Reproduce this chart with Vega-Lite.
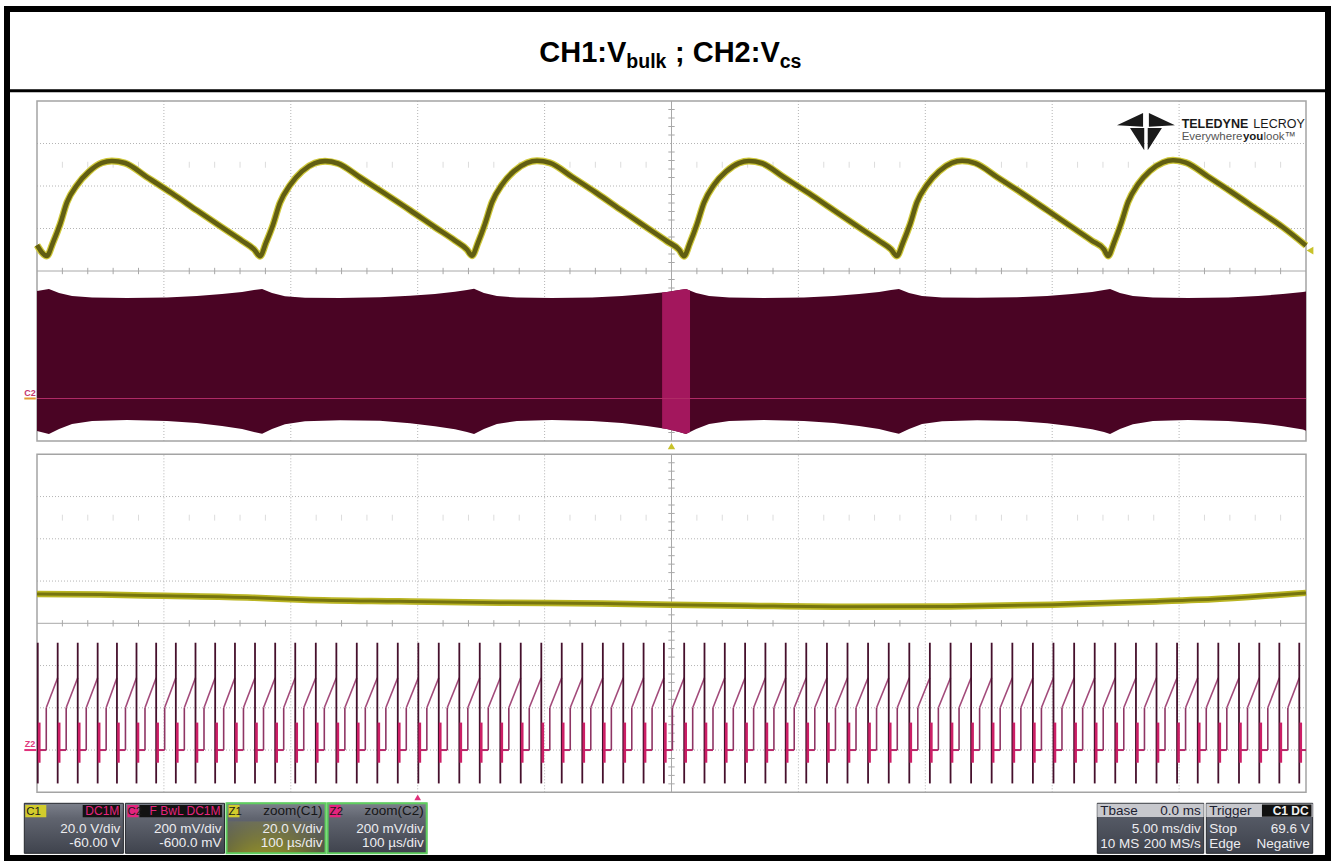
{
  "$schema": "https://vega.github.io/schema/vega-lite/v6.json",
  "width": 1321,
  "height": 849,
  "autosize": {"type": "none"},
  "padding": {"left": 7, "top": 9, "right": 4, "bottom": 4},
  "background": "#ffffff",
  "config": {"view": {"stroke": "#000000", "strokeWidth": 6}, "font": "Liberation Sans"},
  "datasets": {
    "xdiv": [{"d": -4}, {"d": -3}, {"d": -2}, {"d": -1}, {"d": 1}, {"d": 2}, {"d": 3}, {"d": 4}],
    "ydiv": [{"d": -3}, {"d": -2}, {"d": -1}, {"d": 1}, {"d": 2}, {"d": 3}],
    "xtick": [{"d": -4.8}, {"d": -4.6}, {"d": -4.4}, {"d": -4.2}, {"d": -3.8}, {"d": -3.6}, {"d": -3.4}, {"d": -3.2}, {"d": -2.8}, {"d": -2.6}, {"d": -2.4}, {"d": -2.2}, {"d": -1.8}, {"d": -1.6}, {"d": -1.4}, {"d": -1.2}, {"d": -0.8}, {"d": -0.6}, {"d": -0.4}, {"d": -0.2}, {"d": 0.2}, {"d": 0.4}, {"d": 0.6}, {"d": 0.8}, {"d": 1.2}, {"d": 1.4}, {"d": 1.6}, {"d": 1.8}, {"d": 2.2}, {"d": 2.4}, {"d": 2.6}, {"d": 2.8}, {"d": 3.2}, {"d": 3.4}, {"d": 3.6}, {"d": 3.8}, {"d": 4.2}, {"d": 4.4}, {"d": 4.6}, {"d": 4.8}],
    "ytick": [{"d": -3.8}, {"d": -3.6}, {"d": -3.4}, {"d": -3.2}, {"d": -2.8}, {"d": -2.6}, {"d": -2.4}, {"d": -2.2}, {"d": -1.8}, {"d": -1.6}, {"d": -1.4}, {"d": -1.2}, {"d": -0.8}, {"d": -0.6}, {"d": -0.4}, {"d": -0.2}, {"d": 0.2}, {"d": 0.4}, {"d": 0.6}, {"d": 0.8}, {"d": 1.2}, {"d": 1.4}, {"d": 1.6}, {"d": 1.8}, {"d": 2.2}, {"d": 2.4}, {"d": 2.6}, {"d": 2.8}, {"d": 3.2}, {"d": 3.4}, {"d": 3.6}, {"d": 3.8}],
    "c1": [
      {"t": -25.0, "v": 72.2},
      {"t": -24.61, "v": 67.1}, {"t": -24.37, "v": 73.4}, {"t": -24.09, "v": 82.0}, {"t": -23.82, "v": 92.3}, {"t": -23.42, "v": 100.5}, {"t": -22.95, "v": 106.8}, {"t": -22.44, "v": 110.9}, {"t": -22.05, "v": 111.8}, {"t": -21.53, "v": 110.8}, {"t": -20.67, "v": 104.2}, {"t": -19.68, "v": 96.5}, {"t": -18.70, "v": 88.5}, {"t": -17.71, "v": 80.5}, {"t": -16.92, "v": 74.2}, {"t": -16.45, "v": 70.2},
      {"t": -16.21, "v": 67.0}, {"t": -15.98, "v": 73.2}, {"t": -15.70, "v": 81.8}, {"t": -15.43, "v": 92.0}, {"t": -15.03, "v": 100.4}, {"t": -14.56, "v": 106.9}, {"t": -14.05, "v": 110.8}, {"t": -13.65, "v": 111.7}, {"t": -13.14, "v": 110.6}, {"t": -12.27, "v": 104.0}, {"t": -11.29, "v": 96.4}, {"t": -10.30, "v": 88.6}, {"t": -9.32, "v": 80.6}, {"t": -8.53, "v": 74.3}, {"t": -8.06, "v": 70.1},
      {"t": -7.86, "v": 67.2}, {"t": -7.62, "v": 73.5}, {"t": -7.35, "v": 82.1}, {"t": -7.07, "v": 92.4}, {"t": -6.68, "v": 100.6}, {"t": -6.21, "v": 106.9}, {"t": -5.69, "v": 110.9}, {"t": -5.30, "v": 111.9}, {"t": -4.79, "v": 110.9}, {"t": -3.92, "v": 104.3}, {"t": -2.94, "v": 96.6}, {"t": -1.95, "v": 88.4}, {"t": -0.97, "v": 80.4}, {"t": -0.18, "v": 74.0}, {"t": 0.30, "v": 70.0},
      {"t": 0.49, "v": 67.0}, {"t": 0.73, "v": 73.3}, {"t": 1.00, "v": 81.9}, {"t": 1.28, "v": 92.2}, {"t": 1.67, "v": 100.5}, {"t": 2.15, "v": 106.8}, {"t": 2.66, "v": 110.8}, {"t": 3.05, "v": 111.8}, {"t": 3.57, "v": 110.7}, {"t": 4.43, "v": 104.1}, {"t": 5.42, "v": 96.5}, {"t": 6.40, "v": 88.5}, {"t": 7.39, "v": 80.5}, {"t": 8.18, "v": 74.2}, {"t": 8.65, "v": 70.2},
      {"t": 8.88, "v": 67.1}, {"t": 9.12, "v": 73.4}, {"t": 9.40, "v": 82.0}, {"t": 9.67, "v": 92.3}, {"t": 10.07, "v": 100.6}, {"t": 10.54, "v": 106.9}, {"t": 11.05, "v": 110.9}, {"t": 11.45, "v": 111.9}, {"t": 11.96, "v": 110.8}, {"t": 12.83, "v": 104.2}, {"t": 13.81, "v": 96.6}, {"t": 14.80, "v": 88.6}, {"t": 15.78, "v": 80.6}, {"t": 16.57, "v": 74.2}, {"t": 17.04, "v": 70.2},
      {"t": 17.20, "v": 67.1}, {"t": 17.44, "v": 73.5}, {"t": 17.71, "v": 82.2}, {"t": 17.99, "v": 92.5}, {"t": 18.38, "v": 100.8}, {"t": 18.85, "v": 107.1}, {"t": 19.37, "v": 111.1}, {"t": 19.76, "v": 112.1}, {"t": 20.27, "v": 111.0}, {"t": 21.14, "v": 104.4}, {"t": 22.12, "v": 96.7}, {"t": 23.11, "v": 88.6}, {"t": 24.09, "v": 80.6}, {"t": 25.0, "v": 72.0}
    ],
    "c2env": [
      {"t": -25.0, "hi": 506, "lo": -153},
      {"t": -24.53, "hi": 515, "lo": -167}, {"t": -24.13, "hi": 497, "lo": -144}, {"t": -23.62, "hi": 482, "lo": -120}, {"t": -22.83, "hi": 475, "lo": -106}, {"t": -21.45, "hi": 473, "lo": -101}, {"t": -19.88, "hi": 475, "lo": -106}, {"t": -18.70, "hi": 482, "lo": -115}, {"t": -17.71, "hi": 492, "lo": -129}, {"t": -16.92, "hi": 501, "lo": -144}, {"t": -16.45, "hi": 511, "lo": -158},
      {"t": -16.13, "hi": 515, "lo": -166}, {"t": -15.74, "hi": 496, "lo": -143}, {"t": -15.23, "hi": 481, "lo": -121}, {"t": -14.44, "hi": 474, "lo": -107}, {"t": -13.06, "hi": 473, "lo": -102}, {"t": -11.49, "hi": 476, "lo": -105}, {"t": -10.30, "hi": 483, "lo": -116}, {"t": -9.32, "hi": 492, "lo": -130}, {"t": -8.53, "hi": 502, "lo": -145}, {"t": -8.06, "hi": 511, "lo": -158},
      {"t": -7.78, "hi": 516, "lo": -167}, {"t": -7.39, "hi": 497, "lo": -144}, {"t": -6.88, "hi": 482, "lo": -120}, {"t": -6.09, "hi": 475, "lo": -106}, {"t": -4.71, "hi": 473, "lo": -101}, {"t": -3.13, "hi": 475, "lo": -106}, {"t": -1.95, "hi": 482, "lo": -115}, {"t": -0.97, "hi": 492, "lo": -129}, {"t": -0.18, "hi": 501, "lo": -144}, {"t": 0.30, "hi": 511, "lo": -158},
      {"t": 0.57, "hi": 515, "lo": -167}, {"t": 0.97, "hi": 497, "lo": -144}, {"t": 1.48, "hi": 482, "lo": -120}, {"t": 2.27, "hi": 475, "lo": -106}, {"t": 3.64, "hi": 473, "lo": -101}, {"t": 5.22, "hi": 475, "lo": -106}, {"t": 6.40, "hi": 482, "lo": -115}, {"t": 7.39, "hi": 492, "lo": -129}, {"t": 8.18, "hi": 501, "lo": -144}, {"t": 8.65, "hi": 511, "lo": -158},
      {"t": 8.96, "hi": 515, "lo": -166}, {"t": 9.36, "hi": 497, "lo": -143}, {"t": 9.87, "hi": 482, "lo": -120}, {"t": 10.66, "hi": 475, "lo": -107}, {"t": 12.04, "hi": 474, "lo": -102}, {"t": 13.61, "hi": 476, "lo": -106}, {"t": 14.80, "hi": 482, "lo": -116}, {"t": 15.78, "hi": 492, "lo": -130}, {"t": 16.57, "hi": 501, "lo": -145}, {"t": 17.04, "hi": 511, "lo": -158},
      {"t": 17.28, "hi": 515, "lo": -167}, {"t": 17.67, "hi": 497, "lo": -144}, {"t": 18.18, "hi": 482, "lo": -121}, {"t": 18.97, "hi": 475, "lo": -106}, {"t": 20.35, "hi": 473, "lo": -101}, {"t": 21.93, "hi": 475, "lo": -106}, {"t": 23.11, "hi": 482, "lo": -116}, {"t": 24.09, "hi": 492, "lo": -130}, {"t": 24.88, "hi": 501, "lo": -146},
      {"t": 25.0, "hi": 504, "lo": -152}
    ],
    "c2zoom": [
      {"t": -0.37, "hi": 499, "lo": -140}, {"t": -0.18, "hi": 501, "lo": -144}, {"t": 0.30, "hi": 511, "lo": -158}, {"t": 0.57, "hi": 515, "lo": -167}, {"t": 0.73, "hi": 508, "lo": -158}
    ],
    "z1": [
      {"t": -500, "v": 73.9}, {"t": -450, "v": 73.6}, {"t": -400, "v": 73.0}, {"t": -330, "v": 72.1}, {"t": -290, "v": 71.2}, {"t": -215, "v": 70.4}, {"t": -135, "v": 69.7}, {"t": -55, "v": 69.4}, {"t": 0, "v": 68.8}, {"t": 60, "v": 68.3}, {"t": 140, "v": 67.8}, {"t": 220, "v": 68.0}, {"t": 300, "v": 68.8}, {"t": 375, "v": 70.2}, {"t": 415, "v": 71.1}, {"t": 455, "v": 72.5}, {"t": 500, "v": 74.4}
    ],
    "z2": [
      {"s": -499.4, "on": -492.7, "off": -483.7}, {"s": -483.7, "on": -477.0, "off": -467.9}, {"s": -467.9, "on": -461.2, "off": -452.2}, {"s": -452.2, "on": -445.5, "off": -437.0},
      {"s": -437.0, "on": -430.3, "off": -421.6}, {"s": -421.6, "on": -414.9, "off": -406.1}, {"s": -406.1, "on": -399.4, "off": -390.6}, {"s": -390.6, "on": -383.9, "off": -375.1},
      {"s": -375.1, "on": -368.4, "off": -359.6}, {"s": -359.6, "on": -352.9, "off": -344.0}, {"s": -344.0, "on": -337.3, "off": -328.2}, {"s": -328.2, "on": -321.5, "off": -312.3},
      {"s": -312.3, "on": -305.6, "off": -296.5}, {"s": -296.5, "on": -289.8, "off": -280.3}, {"s": -280.3, "on": -273.6, "off": -264.1}, {"s": -264.1, "on": -257.4, "off": -248.0},
      {"s": -248.0, "on": -241.3, "off": -231.8}, {"s": -231.8, "on": -225.1, "off": -215.7}, {"s": -215.7, "on": -209.0, "off": -199.5}, {"s": -199.5, "on": -192.8, "off": -183.4},
      {"s": -183.4, "on": -176.7, "off": -167.2}, {"s": -167.2, "on": -160.5, "off": -151.1}, {"s": -151.1, "on": -144.4, "off": -134.9}, {"s": -134.9, "on": -128.2, "off": -118.8},
      {"s": -118.8, "on": -112.1, "off": -102.6}, {"s": -102.6, "on": -95.9, "off": -86.5}, {"s": -86.5, "on": -79.8, "off": -70.3}, {"s": -70.3, "on": -63.6, "off": -54.1},
      {"s": -54.1, "on": -47.4, "off": -38.0}, {"s": -38.0, "on": -31.3, "off": -22.0}, {"s": -22.0, "on": -15.3, "off": -6.0}, {"s": -6.0, "on": 0.7, "off": 10.0},
      {"s": 10.0, "on": 16.7, "off": 26.0}, {"s": 26.0, "on": 32.7, "off": 42.0}, {"s": 42.0, "on": 48.7, "off": 58.0}, {"s": 58.0, "on": 64.7, "off": 74.0},
      {"s": 74.0, "on": 80.7, "off": 90.0}, {"s": 90.0, "on": 96.7, "off": 106.2}, {"s": 106.2, "on": 112.9, "off": 122.5}, {"s": 122.5, "on": 129.2, "off": 138.7},
      {"s": 138.7, "on": 145.4, "off": 154.9}, {"s": 154.9, "on": 161.6, "off": 171.2}, {"s": 171.2, "on": 177.9, "off": 187.4}, {"s": 187.4, "on": 194.1, "off": 203.6},
      {"s": 203.6, "on": 210.3, "off": 219.9}, {"s": 219.9, "on": 226.6, "off": 236.1}, {"s": 236.1, "on": 242.8, "off": 252.3}, {"s": 252.3, "on": 259.0, "off": 268.6},
      {"s": 268.6, "on": 275.3, "off": 284.8}, {"s": 284.8, "on": 291.5, "off": 301.0}, {"s": 301.0, "on": 307.7, "off": 317.3}, {"s": 317.3, "on": 324.0, "off": 333.5},
      {"s": 333.5, "on": 340.2, "off": 349.7}, {"s": 349.7, "on": 356.4, "off": 366.0}, {"s": 366.0, "on": 372.7, "off": 382.2}, {"s": 382.2, "on": 388.9, "off": 398.4},
      {"s": 398.4, "on": 405.1, "off": 414.7}, {"s": 414.7, "on": 421.4, "off": 430.9}, {"s": 430.9, "on": 437.6, "off": 447.2}, {"s": 447.2, "on": 453.9, "off": 463.2},
      {"s": 463.2, "on": 469.9, "off": 479.0}, {"s": 479.0, "on": 485.7, "off": 494.7}, {"s": 494.7, "on": 500.0}
    ],
    "boxesL": [
      {"box": "C1", "head": "", "mid": "20.0 V/div", "low": "-60.00 V"},
      {"box": "C2", "head": "", "mid": "200 mV/div", "low": "-600.0 mV"},
      {"box": "Z1", "head": "zoom(C1)", "mid": "20.0 V/div", "low": "100 µs/div"},
      {"box": "Z2", "head": "zoom(C2)", "mid": "200 mV/div", "low": "100 µs/div"}
    ],
    "badgesL": [
      {"box": "C1", "badge": "DC1M"},
      {"box": "C2", "badge": "F  BwL  DC1M"}
    ],
    "boxesR": [
      {"box": "Tbase", "hl": "Tbase", "hr": "0.0 ms", "ml": "", "mr": "5.00 ms/div", "ll": "10 MS", "lr": "200 MS/s"},
      {"box": "Trigger", "hl": "Trigger", "hr": "", "ml": "Stop", "mr": "69.6 V", "ll": "Edge", "lr": "Negative"}
    ]
  },
  "resolve": {"scale": {"x": "independent", "y": "independent", "color": "independent"}},
  "layer": [
    {
      "layer": [
        {"data": {"name": "xdiv"}, "mark": {"type": "rule", "color": "#b4b4b4", "strokeDash": [1, 2]},
         "encoding": {"x": {"field": "d", "type": "quantitative", "scale": {"domain": [-5, 5], "range": [30, 1299]}, "axis": null},
                      "y": {"datum": -4, "type": "quantitative", "scale": {"domain": [-4, 4], "range": [432, 92]}, "axis": null}, "y2": {"datum": 4}}},
        {"data": {"name": "ydiv"}, "mark": {"type": "rule", "color": "#b4b4b4", "strokeDash": [1, 2]},
         "encoding": {"y": {"field": "d", "type": "quantitative", "scale": {"domain": [-4, 4], "range": [432, 92]}, "axis": null},
                      "x": {"datum": -5, "type": "quantitative", "scale": {"domain": [-5, 5], "range": [30, 1299]}, "axis": null}, "x2": {"datum": 5}}},
        {"data": {"name": "xtick"}, "mark": {"type": "rule", "color": "#dcdcdc"},
         "encoding": {"x": {"field": "d", "type": "quantitative", "scale": {"domain": [-5, 5], "range": [30, 1299]}, "axis": null},
                      "y": {"datum": 2.43, "type": "quantitative", "scale": {"domain": [-4, 4], "range": [432, 92]}, "axis": null}, "y2": {"datum": 2.57}}},
        {"data": {"name": "xtick"}, "mark": {"type": "rule", "color": "#a8a8a8"},
         "encoding": {"x": {"field": "d", "type": "quantitative", "scale": {"domain": [-5, 5], "range": [30, 1299]}, "axis": null},
                      "y": {"datum": -0.075, "type": "quantitative", "scale": {"domain": [-4, 4], "range": [432, 92]}, "axis": null}, "y2": {"datum": 0.075}}},
        {"data": {"name": "ytick"}, "mark": {"type": "rule", "color": "#a8a8a8"},
         "encoding": {"y": {"field": "d", "type": "quantitative", "scale": {"domain": [-4, 4], "range": [432, 92]}, "axis": null},
                      "x": {"datum": -0.025, "type": "quantitative", "scale": {"domain": [-5, 5], "range": [30, 1299]}, "axis": null}, "x2": {"datum": 0.025}}},
        {"data": {"values": [{}]}, "mark": {"type": "rule", "color": "#a8a8a8"},
         "encoding": {"x": {"datum": 0, "type": "quantitative", "scale": {"domain": [-5, 5], "range": [30, 1299]}, "axis": null},
                      "y": {"datum": -4, "type": "quantitative", "scale": {"domain": [-4, 4], "range": [432, 92]}, "axis": null}, "y2": {"datum": 4}}},
        {"data": {"values": [{}]}, "mark": {"type": "rule", "color": "#a8a8a8"},
         "encoding": {"y": {"datum": 0, "type": "quantitative", "scale": {"domain": [-4, 4], "range": [432, 92]}, "axis": null},
                      "x": {"datum": -5, "type": "quantitative", "scale": {"domain": [-5, 5], "range": [30, 1299]}, "axis": null}, "x2": {"datum": 5}}},
        {"data": {"values": [{}]}, "mark": {"type": "rect", "fill": "transparent", "stroke": "#a4a4a4", "strokeWidth": 1.5},
         "encoding": {"x": {"datum": -5, "type": "quantitative", "scale": {"domain": [-5, 5], "range": [30, 1299]}, "axis": null}, "x2": {"datum": 5},
                      "y": {"datum": -4, "type": "quantitative", "scale": {"domain": [-4, 4], "range": [432, 92]}, "axis": null}, "y2": {"datum": 4}}},
        {"data": {"values": [{}]}, "mark": {"type": "rule", "color": "#000000", "strokeWidth": 3},
         "encoding": {"y": {"datum": 4.24, "type": "quantitative", "scale": {"domain": [-4, 4], "range": [432, 92]}, "axis": null}}},
        {"data": {"values": [{}]}, "mark": {"type": "text", "text": "CH1:V", "align": "right", "baseline": "alphabetic", "fontSize": 29, "fontWeight": "bold", "color": "#000000"},
         "encoding": {"x": {"datum": -0.356, "type": "quantitative", "scale": {"domain": [-5, 5], "range": [30, 1299]}, "axis": null},
                      "y": {"datum": 4.918, "type": "quantitative", "scale": {"domain": [-4, 4], "range": [432, 92]}, "axis": null}}},
        {"data": {"values": [{}]}, "mark": {"type": "text", "text": "bulk", "align": "left", "baseline": "alphabetic", "fontSize": 19.5, "fontWeight": "bold", "color": "#000000"},
         "encoding": {"x": {"datum": -0.356, "type": "quantitative", "scale": {"domain": [-5, 5], "range": [30, 1299]}, "axis": null},
                      "y": {"datum": 4.776, "type": "quantitative", "scale": {"domain": [-4, 4], "range": [432, 92]}, "axis": null}}},
        {"data": {"values": [{}]}, "mark": {"type": "text", "text": " ; CH2:V", "align": "right", "baseline": "alphabetic", "fontSize": 29, "fontWeight": "bold", "color": "#000000"},
         "encoding": {"x": {"datum": 0.853, "type": "quantitative", "scale": {"domain": [-5, 5], "range": [30, 1299]}, "axis": null},
                      "y": {"datum": 4.918, "type": "quantitative", "scale": {"domain": [-4, 4], "range": [432, 92]}, "axis": null}}},
        {"data": {"values": [{}]}, "mark": {"type": "text", "text": "cs", "align": "left", "baseline": "alphabetic", "fontSize": 19.5, "fontWeight": "bold", "color": "#000000"},
         "encoding": {"x": {"datum": 0.853, "type": "quantitative", "scale": {"domain": [-5, 5], "range": [30, 1299]}, "axis": null},
                      "y": {"datum": 4.776, "type": "quantitative", "scale": {"domain": [-4, 4], "range": [432, 92]}, "axis": null}}},
        {"data": {"values": [{}]}, "mark": {"type": "point", "shape": "M-1,-0.2L-0.1,-0.62L-0.1,-0.15Z M1,-0.2L0.1,-0.62L0.1,-0.15Z M-0.06,-0.1L-0.55,-0.1L-0.06,0.66Z M0.06,-0.1L0.55,-0.1L0.06,0.66Z", "size": 3364, "filled": true, "color": "#1a1a1a", "opacity": 1},
         "encoding": {"x": {"datum": 3.739, "type": "quantitative", "scale": {"domain": [-5, 5], "range": [30, 1299]}, "axis": null},
                      "y": {"datum": 3.294, "type": "quantitative", "scale": {"domain": [-4, 4], "range": [432, 92]}, "axis": null}}},
        {"data": {"values": [{}]}, "mark": {"type": "text", "text": "TELEDYNE", "align": "left", "baseline": "alphabetic", "fontSize": 12.5, "fontWeight": "bold", "color": "#1a1a1a"},
         "encoding": {"x": {"datum": 4.02, "type": "quantitative", "scale": {"domain": [-5, 5], "range": [30, 1299]}, "axis": null},
                      "y": {"datum": 3.376, "type": "quantitative", "scale": {"domain": [-4, 4], "range": [432, 92]}, "axis": null}}},
        {"data": {"values": [{}]}, "mark": {"type": "text", "text": "LECROY", "align": "left", "baseline": "alphabetic", "fontSize": 12.5, "color": "#1a1a1a"},
         "encoding": {"x": {"datum": 4.585, "type": "quantitative", "scale": {"domain": [-5, 5], "range": [30, 1299]}, "axis": null},
                      "y": {"datum": 3.376, "type": "quantitative", "scale": {"domain": [-4, 4], "range": [432, 92]}, "axis": null}}},
        {"data": {"values": [{}]}, "mark": {"type": "text", "text": "Everywhere", "align": "left", "baseline": "alphabetic", "fontSize": 11.5, "color": "#555555"},
         "encoding": {"x": {"datum": 4.02, "type": "quantitative", "scale": {"domain": [-5, 5], "range": [30, 1299]}, "axis": null},
                      "y": {"datum": 3.082, "type": "quantitative", "scale": {"domain": [-4, 4], "range": [432, 92]}, "axis": null}}},
        {"data": {"values": [{}]}, "mark": {"type": "text", "text": "you", "align": "left", "baseline": "alphabetic", "fontSize": 11.5, "fontWeight": "bold", "color": "#1a1a1a"},
         "encoding": {"x": {"datum": 4.503, "type": "quantitative", "scale": {"domain": [-5, 5], "range": [30, 1299]}, "axis": null},
                      "y": {"datum": 3.082, "type": "quantitative", "scale": {"domain": [-4, 4], "range": [432, 92]}, "axis": null}}},
        {"data": {"values": [{}]}, "mark": {"type": "text", "text": "look™", "align": "left", "baseline": "alphabetic", "fontSize": 11.5, "color": "#555555"},
         "encoding": {"x": {"datum": 4.665, "type": "quantitative", "scale": {"domain": [-5, 5], "range": [30, 1299]}, "axis": null},
                      "y": {"datum": 3.082, "type": "quantitative", "scale": {"domain": [-4, 4], "range": [432, 92]}, "axis": null}}},
        {"data": {"values": [{}]}, "mark": {"type": "point", "shape": "triangle-up", "size": 55, "filled": true, "color": "#c8c22a", "opacity": 1},
         "encoding": {"x": {"datum": 0, "type": "quantitative", "scale": {"domain": [-5, 5], "range": [30, 1299]}, "axis": null},
                      "y": {"datum": -4.12, "type": "quantitative", "scale": {"domain": [-4, 4], "range": [432, 92]}, "axis": null}}}
      ]
    },
    {
      "layer": [
        {"data": {"name": "xdiv"}, "mark": {"type": "rule", "color": "#b4b4b4", "strokeDash": [1, 2]},
         "encoding": {"x": {"field": "d", "type": "quantitative", "scale": {"domain": [-5, 5], "range": [30, 1299]}, "axis": null},
                      "y": {"datum": -4, "type": "quantitative", "scale": {"domain": [-4, 4], "range": [783.3, 445.3]}, "axis": null}, "y2": {"datum": 4}}},
        {"data": {"name": "ydiv"}, "mark": {"type": "rule", "color": "#b4b4b4", "strokeDash": [1, 2]},
         "encoding": {"y": {"field": "d", "type": "quantitative", "scale": {"domain": [-4, 4], "range": [783.3, 445.3]}, "axis": null},
                      "x": {"datum": -5, "type": "quantitative", "scale": {"domain": [-5, 5], "range": [30, 1299]}, "axis": null}, "x2": {"datum": 5}}},
        {"data": {"name": "xtick"}, "mark": {"type": "rule", "color": "#dcdcdc"},
         "encoding": {"x": {"field": "d", "type": "quantitative", "scale": {"domain": [-5, 5], "range": [30, 1299]}, "axis": null},
                      "y": {"datum": 2.43, "type": "quantitative", "scale": {"domain": [-4, 4], "range": [783.3, 445.3]}, "axis": null}, "y2": {"datum": 2.57}}},
        {"data": {"name": "xtick"}, "mark": {"type": "rule", "color": "#a8a8a8"},
         "encoding": {"x": {"field": "d", "type": "quantitative", "scale": {"domain": [-5, 5], "range": [30, 1299]}, "axis": null},
                      "y": {"datum": -0.075, "type": "quantitative", "scale": {"domain": [-4, 4], "range": [783.3, 445.3]}, "axis": null}, "y2": {"datum": 0.075}}},
        {"data": {"name": "ytick"}, "mark": {"type": "rule", "color": "#a8a8a8"},
         "encoding": {"y": {"field": "d", "type": "quantitative", "scale": {"domain": [-4, 4], "range": [783.3, 445.3]}, "axis": null},
                      "x": {"datum": -0.025, "type": "quantitative", "scale": {"domain": [-5, 5], "range": [30, 1299]}, "axis": null}, "x2": {"datum": 0.025}}},
        {"data": {"values": [{}]}, "mark": {"type": "rule", "color": "#a8a8a8"},
         "encoding": {"x": {"datum": 0, "type": "quantitative", "scale": {"domain": [-5, 5], "range": [30, 1299]}, "axis": null},
                      "y": {"datum": -4, "type": "quantitative", "scale": {"domain": [-4, 4], "range": [783.3, 445.3]}, "axis": null}, "y2": {"datum": 4}}},
        {"data": {"values": [{}]}, "mark": {"type": "rule", "color": "#a8a8a8"},
         "encoding": {"y": {"datum": 0, "type": "quantitative", "scale": {"domain": [-4, 4], "range": [783.3, 445.3]}, "axis": null},
                      "x": {"datum": -5, "type": "quantitative", "scale": {"domain": [-5, 5], "range": [30, 1299]}, "axis": null}, "x2": {"datum": 5}}},
        {"data": {"values": [{}]}, "mark": {"type": "rect", "fill": "transparent", "stroke": "#a4a4a4", "strokeWidth": 1.5},
         "encoding": {"x": {"datum": -5, "type": "quantitative", "scale": {"domain": [-5, 5], "range": [30, 1299]}, "axis": null}, "x2": {"datum": 5},
                      "y": {"datum": -4, "type": "quantitative", "scale": {"domain": [-4, 4], "range": [783.3, 445.3]}, "axis": null}, "y2": {"datum": 4}}}
      ]
    },
    {
      "layer": [
        {"data": {"name": "c2env"}, "mark": {"type": "area", "color": "#4a0424", "opacity": 1},
         "encoding": {"x": {"field": "t", "type": "quantitative", "scale": {"domain": [-25, 25], "range": [30, 1299]}, "axis": null},
                      "y": {"field": "hi", "type": "quantitative", "scale": {"domain": [-200, 1400], "range": [432, 92]}, "axis": null},
                      "y2": {"field": "lo"}}},
        {"data": {"name": "c2zoom"}, "mark": {"type": "area", "color": "#a3175d", "opacity": 1},
         "encoding": {"x": {"field": "t", "type": "quantitative", "scale": {"domain": [-25, 25], "range": [30, 1299]}, "axis": null},
                      "y": {"field": "hi", "type": "quantitative", "scale": {"domain": [-200, 1400], "range": [432, 92]}, "axis": null},
                      "y2": {"field": "lo"}}},
        {"data": {"values": [{}]}, "mark": {"type": "rule", "color": "#b02a66", "strokeWidth": 1.2},
         "encoding": {"x": {"datum": -25, "type": "quantitative", "scale": {"domain": [-25, 25], "range": [30, 1299]}, "axis": null}, "x2": {"datum": 25},
                      "y": {"datum": 0, "type": "quantitative", "scale": {"domain": [-200, 1400], "range": [432, 92]}, "axis": null}}},
        {"data": {"values": [{}]}, "mark": {"type": "rule", "color": "#e39a32", "strokeWidth": 2},
         "encoding": {"x": {"datum": -25.5, "type": "quantitative", "scale": {"domain": [-25, 25], "range": [30, 1299]}, "axis": null}, "x2": {"datum": -25.05},
                      "y": {"datum": 0, "type": "quantitative", "scale": {"domain": [-200, 1400], "range": [432, 92]}, "axis": null}}},
        {"data": {"values": [{}]}, "mark": {"type": "text", "text": "C2", "align": "center", "baseline": "alphabetic", "dx": -7, "dy": -2.5, "fontSize": 9, "fontWeight": "bold", "color": "#c3366f"},
         "encoding": {"x": {"datum": -25, "type": "quantitative", "scale": {"domain": [-25, 25], "range": [30, 1299]}, "axis": null},
                      "y": {"datum": 0, "type": "quantitative", "scale": {"domain": [-200, 1400], "range": [432, 92]}, "axis": null}}}
      ]
    },
    {
      "layer": [
        {"data": {"name": "c1"}, "mark": {"type": "line", "color": "#cfc83a", "strokeWidth": 7, "interpolate": "monotone", "strokeJoin": "round"},
         "encoding": {"x": {"field": "t", "type": "quantitative", "scale": {"domain": [-25, 25], "range": [30, 1299]}, "axis": null},
                      "y": {"field": "v", "type": "quantitative", "scale": {"domain": [-20, 140], "range": [432, 92]}, "axis": null}}},
        {"data": {"name": "c1"}, "mark": {"type": "line", "color": "#615e12", "strokeWidth": 4.6, "interpolate": "monotone", "strokeJoin": "round"},
         "encoding": {"x": {"field": "t", "type": "quantitative", "scale": {"domain": [-25, 25], "range": [30, 1299]}, "axis": null},
                      "y": {"field": "v", "type": "quantitative", "scale": {"domain": [-20, 140], "range": [432, 92]}, "axis": null}}},
        {"data": {"values": [{}]}, "mark": {"type": "point", "shape": "triangle-left", "size": 60, "filled": true, "color": "#c8c22a", "opacity": 1, "xOffset": 4},
         "encoding": {"x": {"datum": 25, "type": "quantitative", "scale": {"domain": [-25, 25], "range": [30, 1299]}, "axis": null},
                      "y": {"datum": 69.6, "type": "quantitative", "scale": {"domain": [-20, 140], "range": [432, 92]}, "axis": null}}}
      ]
    },
    {
      "layer": [
        {"data": {"name": "z1"}, "mark": {"type": "line", "color": "#bab523", "strokeWidth": 6.5, "interpolate": "monotone"},
         "encoding": {"x": {"field": "t", "type": "quantitative", "scale": {"domain": [-500, 500], "range": [30, 1299]}, "axis": null},
                      "y": {"field": "v", "type": "quantitative", "scale": {"domain": [-20, 140], "range": [783.3, 445.3]}, "axis": null}}},
        {"data": {"name": "z1"}, "mark": {"type": "line", "color": "#76740f", "strokeWidth": 3, "interpolate": "monotone"},
         "encoding": {"x": {"field": "t", "type": "quantitative", "scale": {"domain": [-500, 500], "range": [30, 1299]}, "axis": null},
                      "y": {"field": "v", "type": "quantitative", "scale": {"domain": [-20, 140], "range": [783.3, 445.3]}, "axis": null}}}
      ]
    },
    {
      "layer": [
        {"data": {"name": "z2"}, "mark": {"type": "rule", "color": "#b8286a", "strokeWidth": 2},
         "encoding": {"x": {"field": "s", "type": "quantitative", "scale": {"domain": [-500, 500], "range": [30, 1299]}, "axis": null}, "x2": {"field": "on"},
                      "y": {"datum": 0, "type": "quantitative", "scale": {"domain": [-200, 1400], "range": [783.3, 445.3]}, "axis": null}}},
        {"data": {"name": "z2"}, "transform": [{"filter": "isValid(datum.off)"}], "mark": {"type": "rule", "color": "#8e3564", "strokeWidth": 1.6},
         "encoding": {"x": {"field": "on", "type": "quantitative", "scale": {"domain": [-500, 500], "range": [30, 1299]}, "axis": null},
                      "y": {"datum": 0, "type": "quantitative", "scale": {"domain": [-200, 1400], "range": [783.3, 445.3]}, "axis": null}, "y2": {"datum": 200}}},
        {"data": {"name": "z2"}, "transform": [{"filter": "isValid(datum.off)"}], "mark": {"type": "rule", "color": "#a24a7a", "strokeWidth": 1.6},
         "encoding": {"x": {"field": "on", "type": "quantitative", "scale": {"domain": [-500, 500], "range": [30, 1299]}, "axis": null}, "x2": {"field": "off"},
                      "y": {"datum": 200, "type": "quantitative", "scale": {"domain": [-200, 1400], "range": [783.3, 445.3]}, "axis": null}, "y2": {"datum": 342}}},
        {"data": {"name": "z2"}, "mark": {"type": "rule", "color": "#45102c", "strokeWidth": 1.8},
         "encoding": {"x": {"field": "s", "type": "quantitative", "scale": {"domain": [-500, 500], "range": [30, 1299]}, "axis": null},
                      "y": {"datum": -158, "type": "quantitative", "scale": {"domain": [-200, 1400], "range": [783.3, 445.3]}, "axis": null}, "y2": {"datum": 508}}},
        {"data": {"name": "z2"}, "mark": {"type": "rule", "color": "#cc1f66", "strokeWidth": 2.6, "xOffset": 1.5},
         "encoding": {"x": {"field": "s", "type": "quantitative", "scale": {"domain": [-500, 500], "range": [30, 1299]}, "axis": null},
                      "y": {"datum": -60, "type": "quantitative", "scale": {"domain": [-200, 1400], "range": [783.3, 445.3]}, "axis": null}, "y2": {"datum": 130}}},
        {"data": {"values": [{}]}, "mark": {"type": "rule", "color": "#e0307a", "strokeWidth": 2},
         "encoding": {"x": {"datum": -510, "type": "quantitative", "scale": {"domain": [-500, 500], "range": [30, 1299]}, "axis": null}, "x2": {"datum": -500.5},
                      "y": {"datum": 0, "type": "quantitative", "scale": {"domain": [-200, 1400], "range": [783.3, 445.3]}, "axis": null}}},
        {"data": {"values": [{}]}, "mark": {"type": "text", "text": "Z2", "align": "center", "baseline": "alphabetic", "dx": -7, "dy": -3, "fontSize": 9, "fontWeight": "bold", "color": "#e03a7c"},
         "encoding": {"x": {"datum": -500, "type": "quantitative", "scale": {"domain": [-500, 500], "range": [30, 1299]}, "axis": null},
                      "y": {"datum": 0, "type": "quantitative", "scale": {"domain": [-200, 1400], "range": [783.3, 445.3]}, "axis": null}}},
        {"data": {"values": [{}]}, "mark": {"type": "point", "shape": "triangle-up", "size": 45, "filled": true, "color": "#e0307a", "opacity": 1, "yOffset": 5},
         "encoding": {"x": {"datum": -200, "type": "quantitative", "scale": {"domain": [-500, 500], "range": [30, 1299]}, "axis": null},
                      "y": {"datum": -200, "type": "quantitative", "scale": {"domain": [-200, 1400], "range": [783.3, 445.3]}, "axis": null}}}
      ]
    },
    {
      "layer": [
        {"data": {"name": "boxesL"},
         "mark": {"type": "rect", "stroke": "#26282e", "strokeWidth": 1,
                  "fill": {"gradient": "linear", "x1": 0, "y1": 0, "x2": 0, "y2": 1, "stops": [{"offset": 0, "color": "#7c808b"}, {"offset": 0.3, "color": "#60646f"}, {"offset": 1, "color": "#3f434d"}]}},
         "encoding": {"x": {"field": "box", "type": "nominal", "scale": {"type": "band", "domain": ["C1", "C2", "Z1", "Z2"], "range": [17.3, 419.7], "paddingInner": 0.02, "paddingOuter": 0}, "axis": null},
                      "y": {"datum": 0, "type": "quantitative", "scale": {"domain": [0, 3], "range": [844.3, 794.3]}, "axis": null}, "y2": {"datum": 3}}},
        {"data": {"name": "boxesL"}, "transform": [{"filter": "datum.box === 'Z1'"}],
         "mark": {"type": "rect",
                  "fill": {"gradient": "radial", "x1": 0.4, "y1": 1, "x2": 0.4, "y2": 1, "r1": 0, "r2": 0.85, "stops": [{"offset": 0, "color": "rgba(205,198,35,1)"}, {"offset": 0.5, "color": "rgba(170,165,30,0.6)"}, {"offset": 1, "color": "rgba(150,145,30,0)"}]}},
         "encoding": {"x": {"field": "box", "type": "nominal", "scale": {"type": "band", "domain": ["C1", "C2", "Z1", "Z2"], "range": [17.3, 419.7], "paddingInner": 0.02, "paddingOuter": 0}, "axis": null},
                      "y": {"datum": 0, "type": "quantitative", "scale": {"domain": [0, 3], "range": [844.3, 794.3]}, "axis": null}, "y2": {"datum": 1.9}}},
        {"data": {"name": "boxesL"}, "transform": [{"filter": "datum.box === 'Z1' || datum.box === 'Z2'"}],
         "mark": {"type": "rect", "fill": "transparent", "stroke": "#5fcf5f", "strokeWidth": 2},
         "encoding": {"x": {"field": "box", "type": "nominal", "scale": {"type": "band", "domain": ["C1", "C2", "Z1", "Z2"], "range": [17.3, 419.7], "paddingInner": 0.02, "paddingOuter": 0}, "axis": null},
                      "y": {"datum": 0, "type": "quantitative", "scale": {"domain": [0, 3], "range": [844.3, 794.3]}, "axis": null}, "y2": {"datum": 3}}},
        {"data": {"name": "boxesL"}, "transform": [{"filter": "datum.box === 'C1'"}],
         "mark": {"type": "bar", "width": 21, "xOffset": -38.05, "color": "#d2cc2c"},
         "encoding": {"x": {"field": "box", "type": "nominal", "scale": {"type": "band", "domain": ["C1", "C2", "Z1", "Z2"], "range": [17.3, 419.7], "paddingInner": 0.02, "paddingOuter": 0}, "axis": null},
                      "y": {"datum": 2.16, "type": "quantitative", "scale": {"domain": [0, 3], "range": [844.3, 794.3]}, "axis": null}, "y2": {"datum": 2.9}}},
        {"data": {"name": "boxesL"}, "transform": [{"filter": "datum.box !== 'C1'"}],
         "mark": {"type": "bar", "width": 11, "xOffset": -42.05},
         "encoding": {"x": {"field": "box", "type": "nominal", "scale": {"type": "band", "domain": ["C1", "C2", "Z1", "Z2"], "range": [17.3, 419.7], "paddingInner": 0.02, "paddingOuter": 0}, "axis": null},
                      "y": {"datum": 2.16, "type": "quantitative", "scale": {"domain": [0, 3], "range": [844.3, 794.3]}, "axis": null}, "y2": {"datum": 2.9},
                      "color": {"field": "box", "type": "nominal", "scale": {"domain": ["C2", "Z1", "Z2"], "range": ["#e4247e", "#d2cc2c", "#e4247e"]}, "legend": null}}},
        {"data": {"name": "badgesL"}, "transform": [{"filter": "datum.box === 'C1'"}],
         "mark": {"type": "bar", "width": 37.3, "xOffset": 27.5, "color": "#121212"},
         "encoding": {"x": {"field": "box", "type": "nominal", "scale": {"type": "band", "domain": ["C1", "C2", "Z1", "Z2"], "range": [17.3, 419.7], "paddingInner": 0.02, "paddingOuter": 0}, "axis": null},
                      "y": {"datum": 2.16, "type": "quantitative", "scale": {"domain": [0, 3], "range": [844.3, 794.3]}, "axis": null}, "y2": {"datum": 2.9}}},
        {"data": {"name": "badgesL"}, "transform": [{"filter": "datum.box === 'C2'"}],
         "mark": {"type": "bar", "width": 82.5, "xOffset": 5.7, "color": "#121212"},
         "encoding": {"x": {"field": "box", "type": "nominal", "scale": {"type": "band", "domain": ["C1", "C2", "Z1", "Z2"], "range": [17.3, 419.7], "paddingInner": 0.02, "paddingOuter": 0}, "axis": null},
                      "y": {"datum": 2.16, "type": "quantitative", "scale": {"domain": [0, 3], "range": [844.3, 794.3]}, "axis": null}, "y2": {"datum": 2.9}}},
        {"data": {"name": "boxesL"},
         "mark": {"type": "text", "align": "left", "baseline": "alphabetic", "dx": 2, "fontSize": 11.5, "color": "#1a1a1a"},
         "encoding": {"x": {"field": "box", "type": "nominal", "bandPosition": 0, "scale": {"type": "band", "domain": ["C1", "C2", "Z1", "Z2"], "range": [17.3, 419.7], "paddingInner": 0.02, "paddingOuter": 0}, "axis": null},
                      "y": {"datum": 2.32, "type": "quantitative", "scale": {"domain": [0, 3], "range": [844.3, 794.3]}, "axis": null},
                      "text": {"field": "box"}}},
        {"data": {"name": "badgesL"},
         "mark": {"type": "text", "align": "right", "baseline": "alphabetic", "dx": -4, "fontSize": 12},
         "encoding": {"x": {"field": "box", "type": "nominal", "bandPosition": 1, "scale": {"type": "band", "domain": ["C1", "C2", "Z1", "Z2"], "range": [17.3, 419.7], "paddingInner": 0.02, "paddingOuter": 0}, "axis": null},
                      "y": {"datum": 2.32, "type": "quantitative", "scale": {"domain": [0, 3], "range": [844.3, 794.3]}, "axis": null},
                      "text": {"field": "badge"},
                      "color": {"field": "box", "type": "nominal", "scale": {"domain": ["C1", "C2"], "range": ["#cfcfcf", "#e23a80"]}, "legend": null}}},
        {"data": {"name": "boxesL"},
         "mark": {"type": "text", "align": "right", "baseline": "alphabetic", "dx": -3, "fontSize": 13.5, "color": "#161616"},
         "encoding": {"x": {"field": "box", "type": "nominal", "bandPosition": 1, "scale": {"type": "band", "domain": ["C1", "C2", "Z1", "Z2"], "range": [17.3, 419.7], "paddingInner": 0.02, "paddingOuter": 0}, "axis": null},
                      "y": {"datum": 2.32, "type": "quantitative", "scale": {"domain": [0, 3], "range": [844.3, 794.3]}, "axis": null},
                      "text": {"field": "head"}}},
        {"data": {"name": "boxesL"},
         "mark": {"type": "text", "align": "right", "baseline": "alphabetic", "dx": -3, "fontSize": 13.5, "color": "#ececf0"},
         "encoding": {"x": {"field": "box", "type": "nominal", "bandPosition": 1, "scale": {"type": "band", "domain": ["C1", "C2", "Z1", "Z2"], "range": [17.3, 419.7], "paddingInner": 0.02, "paddingOuter": 0}, "axis": null},
                      "y": {"datum": 1.22, "type": "quantitative", "scale": {"domain": [0, 3], "range": [844.3, 794.3]}, "axis": null},
                      "text": {"field": "mid"}}},
        {"data": {"name": "boxesL"},
         "mark": {"type": "text", "align": "right", "baseline": "alphabetic", "dx": -3, "fontSize": 13.5, "color": "#ececf0"},
         "encoding": {"x": {"field": "box", "type": "nominal", "bandPosition": 1, "scale": {"type": "band", "domain": ["C1", "C2", "Z1", "Z2"], "range": [17.3, 419.7], "paddingInner": 0.02, "paddingOuter": 0}, "axis": null},
                      "y": {"datum": 0.36, "type": "quantitative", "scale": {"domain": [0, 3], "range": [844.3, 794.3]}, "axis": null},
                      "text": {"field": "low"}}}
      ]
    },
    {
      "layer": [
        {"data": {"name": "boxesR"},
         "mark": {"type": "rect", "stroke": "#26282e", "strokeWidth": 1,
                  "fill": {"gradient": "linear", "x1": 0, "y1": 0, "x2": 0, "y2": 1, "stops": [{"offset": 0, "color": "#5e636f"}, {"offset": 1, "color": "#3e424c"}]}},
         "encoding": {"x": {"field": "box", "type": "nominal", "scale": {"type": "band", "domain": ["Tbase", "Trigger"], "range": [1090.3, 1305.7], "paddingInner": 0.024, "paddingOuter": 0}, "axis": null},
                      "y": {"datum": 0, "type": "quantitative", "scale": {"domain": [0, 3], "range": [844.3, 794.3]}, "axis": null}, "y2": {"datum": 3}}},
        {"data": {"name": "boxesR"},
         "mark": {"type": "rect", "fill": "#c7c8cd"},
         "encoding": {"x": {"field": "box", "type": "nominal", "scale": {"type": "band", "domain": ["Tbase", "Trigger"], "range": [1090.3, 1305.7], "paddingInner": 0.024, "paddingOuter": 0}, "axis": null},
                      "y": {"datum": 2.18, "type": "quantitative", "scale": {"domain": [0, 3], "range": [844.3, 794.3]}, "axis": null}, "y2": {"datum": 2.97}}},
        {"data": {"name": "boxesR"}, "transform": [{"filter": "datum.box === 'Trigger'"}],
         "mark": {"type": "bar", "width": 49.5, "xOffset": 27.2, "color": "#111111"},
         "encoding": {"x": {"field": "box", "type": "nominal", "scale": {"type": "band", "domain": ["Tbase", "Trigger"], "range": [1090.3, 1305.7], "paddingInner": 0.024, "paddingOuter": 0}, "axis": null},
                      "y": {"datum": 2.2, "type": "quantitative", "scale": {"domain": [0, 3], "range": [844.3, 794.3]}, "axis": null}, "y2": {"datum": 2.93}}},
        {"data": {"values": [{"box": "Trigger", "badge": "C1  DC"}]},
         "mark": {"type": "text", "align": "right", "baseline": "alphabetic", "dx": -4, "fontSize": 12, "fontWeight": "bold", "color": "#f0f0f0"},
         "encoding": {"x": {"field": "box", "type": "nominal", "bandPosition": 1, "scale": {"type": "band", "domain": ["Tbase", "Trigger"], "range": [1090.3, 1305.7], "paddingInner": 0.024, "paddingOuter": 0}, "axis": null},
                      "y": {"datum": 2.32, "type": "quantitative", "scale": {"domain": [0, 3], "range": [844.3, 794.3]}, "axis": null},
                      "text": {"field": "badge"}}},
        {"data": {"name": "boxesR"},
         "mark": {"type": "text", "align": "left", "baseline": "alphabetic", "dx": 3, "fontSize": 13.5, "color": "#1c2030"},
         "encoding": {"x": {"field": "box", "type": "nominal", "bandPosition": 0, "scale": {"type": "band", "domain": ["Tbase", "Trigger"], "range": [1090.3, 1305.7], "paddingInner": 0.024, "paddingOuter": 0}, "axis": null},
                      "y": {"datum": 2.32, "type": "quantitative", "scale": {"domain": [0, 3], "range": [844.3, 794.3]}, "axis": null},
                      "text": {"field": "hl"}}},
        {"data": {"name": "boxesR"},
         "mark": {"type": "text", "align": "right", "baseline": "alphabetic", "dx": -3, "fontSize": 13.5, "color": "#1c2030"},
         "encoding": {"x": {"field": "box", "type": "nominal", "bandPosition": 1, "scale": {"type": "band", "domain": ["Tbase", "Trigger"], "range": [1090.3, 1305.7], "paddingInner": 0.024, "paddingOuter": 0}, "axis": null},
                      "y": {"datum": 2.32, "type": "quantitative", "scale": {"domain": [0, 3], "range": [844.3, 794.3]}, "axis": null},
                      "text": {"field": "hr"}}},
        {"data": {"name": "boxesR"},
         "mark": {"type": "text", "align": "left", "baseline": "alphabetic", "dx": 3, "fontSize": 13.5, "color": "#ececf0"},
         "encoding": {"x": {"field": "box", "type": "nominal", "bandPosition": 0, "scale": {"type": "band", "domain": ["Tbase", "Trigger"], "range": [1090.3, 1305.7], "paddingInner": 0.024, "paddingOuter": 0}, "axis": null},
                      "y": {"datum": 1.22, "type": "quantitative", "scale": {"domain": [0, 3], "range": [844.3, 794.3]}, "axis": null},
                      "text": {"field": "ml"}}},
        {"data": {"name": "boxesR"},
         "mark": {"type": "text", "align": "right", "baseline": "alphabetic", "dx": -3, "fontSize": 13.5, "color": "#ececf0"},
         "encoding": {"x": {"field": "box", "type": "nominal", "bandPosition": 1, "scale": {"type": "band", "domain": ["Tbase", "Trigger"], "range": [1090.3, 1305.7], "paddingInner": 0.024, "paddingOuter": 0}, "axis": null},
                      "y": {"datum": 1.22, "type": "quantitative", "scale": {"domain": [0, 3], "range": [844.3, 794.3]}, "axis": null},
                      "text": {"field": "mr"}}},
        {"data": {"name": "boxesR"},
         "mark": {"type": "text", "align": "left", "baseline": "alphabetic", "dx": 3, "fontSize": 13.5, "color": "#ececf0"},
         "encoding": {"x": {"field": "box", "type": "nominal", "bandPosition": 0, "scale": {"type": "band", "domain": ["Tbase", "Trigger"], "range": [1090.3, 1305.7], "paddingInner": 0.024, "paddingOuter": 0}, "axis": null},
                      "y": {"datum": 0.3, "type": "quantitative", "scale": {"domain": [0, 3], "range": [844.3, 794.3]}, "axis": null},
                      "text": {"field": "ll"}}},
        {"data": {"name": "boxesR"},
         "mark": {"type": "text", "align": "right", "baseline": "alphabetic", "dx": -3, "fontSize": 13.5, "color": "#ececf0"},
         "encoding": {"x": {"field": "box", "type": "nominal", "bandPosition": 1, "scale": {"type": "band", "domain": ["Tbase", "Trigger"], "range": [1090.3, 1305.7], "paddingInner": 0.024, "paddingOuter": 0}, "axis": null},
                      "y": {"datum": 0.3, "type": "quantitative", "scale": {"domain": [0, 3], "range": [844.3, 794.3]}, "axis": null},
                      "text": {"field": "lr"}}}
      ]
    }
  ]
}
